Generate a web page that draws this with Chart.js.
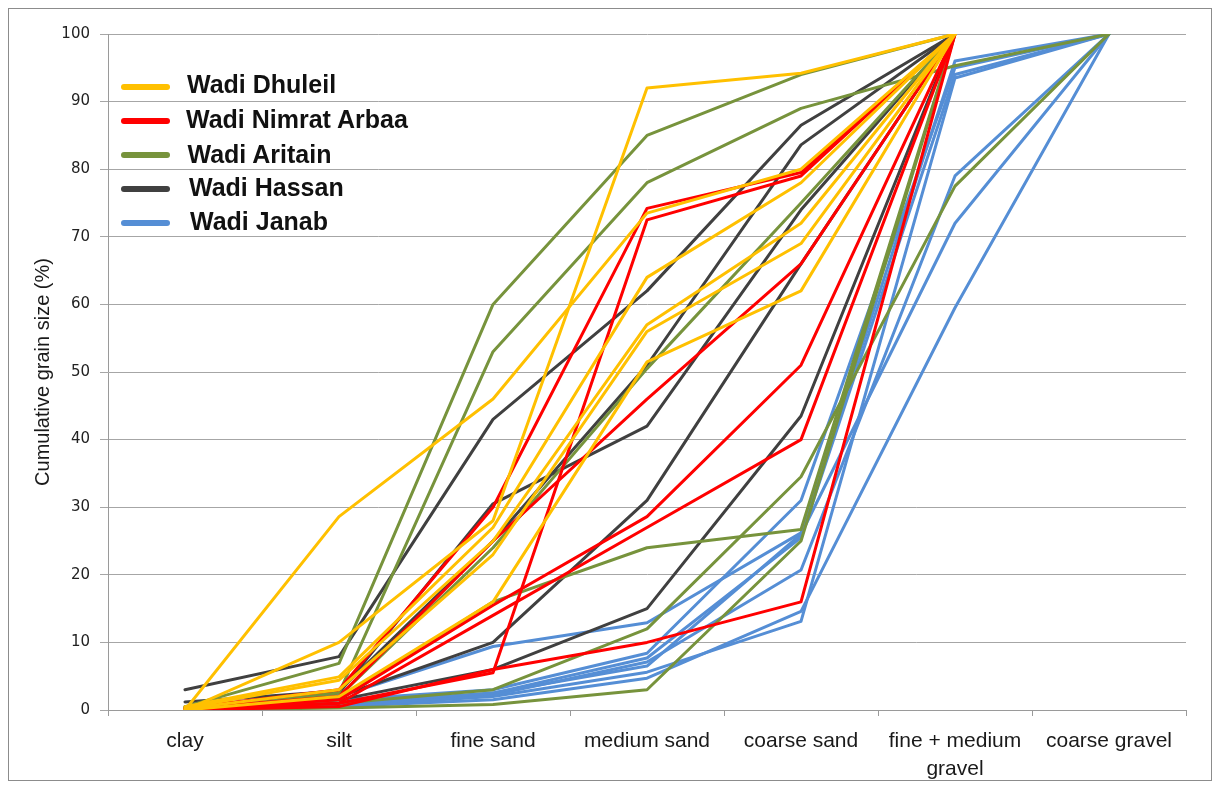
<!DOCTYPE html>
<html><head><meta charset="utf-8">
<script src="https://cdn.jsdelivr.net/npm/chart.js@4.4.0/dist/chart.umd.min.js"></script>
<style>
html,body{margin:0;padding:0;background:#fff;}
#wrap{position:relative;width:1213px;height:786px;overflow:hidden;}
canvas{display:block;}
.item{position:absolute;white-space:nowrap;font-family:"Liberation Sans",Arial,sans-serif;font-weight:bold;font-size:25px;line-height:30px;color:#111;}
.swatch{position:absolute;height:6px;width:49px;border-radius:3px;}
</style></head>
<body><div id="wrap"><canvas id="c" width="1213" height="786"></canvas><div id="legend"></div></div>
<script>
// ---- data ----
const categories = ['clay', 'silt', 'fine sand', 'medium sand', 'coarse sand', ['fine + medium', 'gravel'], 'coarse gravel'];
const yTickValues = [0, 10, 20, 30, 40, 50, 60, 70, 80, 90, 100];
const groupNames = ['Wadi Dhuleil', 'Wadi Nimrat Arbaa', 'Wadi Aritain', 'Wadi Hassan', 'Wadi Janab'];
const groupColors = ['#FFC000', '#FF0000', '#77933C', '#404040', '#558ED5'];

const dhuleil1 = [0, 28.6, 46, 73.5, 80, 100, null];
const dhuleil2 = [0, 10, 28, 92, 94.2, 100, null];
const dhuleil3 = [0.5, 4.9, 27, 64, 78, 100, null];
const dhuleil4 = [0.3, 4.4, 25, 57, 72, 100, null];
const dhuleil5 = [0.2, 3, 23, 56, 69, 100, null];
const dhuleil6 = [0, 2, 16, 51.5, 62, 100, null];

const nimrat1 = [0.3, 3, 30, 74.2, 79.5, 100, null];
const nimrat2 = [0, 1, 5.5, 72.5, 79, 100, null];
const nimrat3 = [0.2, 2, 25, 46, 66, 100, null];
const nimrat4 = [0, 1.5, 15.5, 28.6, 51, 100, null];
const nimrat5 = [0, 1, 14, 27, 40, 100, null];
const nimrat6 = [0, 0.5, 6, 10, 16, 100, null];

const aritain1 = [0.5, 6.9, 60, 85, 94, 100, null];
const aritain2 = [0.3, 2.5, 53, 78, 89, 95.3, 100];
const aritain3 = [0.3, 2, 24, 50.5, 75, 100, null];
const aritain4 = [0.2, 1.5, 16, 24, 26.7, 100, null];
const aritain5 = [0, 1, 3, 12, 34.5, 77.5, 100];
const aritain6 = [0, 0.3, 0.8, 3, 25, 100, null];

const hassan1 = [3, 7.9, 43, 62, 86.5, 100, null];
const hassan2 = [1.2, 2.8, 25, 51, 83.6, 100, null];
const hassan3 = [0.5, 2.5, 30.5, 42, 74, 100, null];
const hassan4 = [0.3, 2, 10, 31, 66, 100, null];
const hassan5 = [0.2, 1.5, 6, 15, 43.5, 100, null];

const janab1 = [0.3, 2, 9.4, 12.9, 26.2, 96, 100];
const janab2 = [0.2, 1.5, 3, 8.4, 31, 95, 100];
const janab3 = [0.2, 1, 2.5, 7.7, 25.5, 94, 100];
const janab4 = [0, 0.8, 2.2, 7.1, 20.7, 79, 100];
const janab5 = [0, 0.6, 2, 5.6, 13.1, 93.5, 100];
const janab6 = [0, 0.5, 1.5, 4.7, 14.6, 59.5, 100];
const janab7 = [0, 0.5, 2.5, 6.5, 26, 72, 100];

const groups = [
  [dhuleil1, dhuleil2, dhuleil3, dhuleil4, dhuleil5, dhuleil6],
  [nimrat1, nimrat2, nimrat3, nimrat4, nimrat5, nimrat6],
  [aritain1, aritain2, aritain3, aritain4, aritain5, aritain6],
  [hassan1, hassan2, hassan3, hassan4, hassan5],
  [janab1, janab2, janab3, janab4, janab5, janab6, janab7]
];

// ---- datasets ----
const datasets = [];
groups.forEach((g, gi) => {
  g.forEach((arr, k) => {
    datasets.push({
      label: groupNames[gi] + ' ' + (k + 1),
      data: arr,
      borderColor: groupColors[gi],
      backgroundColor: groupColors[gi],
      borderWidth: 3,
      pointRadius: 0,
      tension: 0,
      fill: false,
      spanGaps: false,
      borderJoinStyle: 'round',
      borderCapStyle: 'round'
    });
  });
});

// ---- legend (HTML overlay) ----
const legendRows = [
  {text: 84, line: 86.7, x: 187},
  {text: 119, line: 120.7, x: 186},
  {text: 154, line: 155, x: 187.5},
  {text: 187, line: 189.3, x: 189},
  {text: 220.5, line: 223.3, x: 190}
];
const leg = document.getElementById('legend');
groupNames.forEach((name, i) => {
  const r = legendRows[i];
  const sw = document.createElement('div');
  sw.className = 'swatch';
  sw.style.background = groupColors[i];
  sw.style.left = '121px';
  sw.style.top = (r.line - 3) + 'px';
  leg.appendChild(sw);
  const t = document.createElement('div');
  t.className = 'item';
  t.textContent = name;
  t.style.left = r.x + 'px';
  t.style.top = (r.text - 15) + 'px';
  leg.appendChild(t);
});

const frame = {
  id: 'frame',
  beforeDraw(chart) {
    const ctx = chart.ctx;
    ctx.save();
    ctx.fillStyle = '#fff';
    ctx.fillRect(0, 0, chart.width, chart.height);
    ctx.strokeStyle = '#8c8c8c';
    ctx.lineWidth = 1;
    ctx.strokeRect(8.5, 8.5, 1203, 772);
    ctx.restore();
  }
};

new Chart(document.getElementById('c'), {
  type: 'line',
  data: {labels: categories, datasets: datasets},
  plugins: [frame],
  options: {
    responsive: false,
    devicePixelRatio: 1,
    animation: false,
    layout: {padding: {left: 0, top: 34, right: 27, bottom: 0}},
    plugins: {legend: {display: false}, tooltip: {enabled: false}},
    scales: {
      x: {
        type: 'category',
        offset: true,
        grid: {offset: true, drawOnChartArea: false, drawTicks: true, tickLength: 6, color: '#9a9a9a', lineWidth: 1},
        border: {display: true, color: '#9a9a9a', width: 1},
        ticks: {
          autoSkip: false, maxRotation: 0, minRotation: 0, padding: 11,
          color: '#1a1a1a',
          font: {family: '"Liberation Sans Narrow", "Liberation Sans", sans-serif', size: 21, lineHeight: 1.33}
        },
        afterFit(s) { s.height = 76; }
      },
      y: {
        min: 0, max: 100,
        afterBuildTicks(s) { s.ticks = yTickValues.map(v => ({value: v})); },
        grid: {color: '#a6a6a6', lineWidth: 1, drawTicks: true, tickLength: 8},
        border: {display: true, color: '#9a9a9a', width: 1},
        ticks: {
          padding: 10, color: '#222',
          font: {family: '"DejaVu Sans", Verdana, sans-serif', size: 15}
        },
        title: {
          display: true, text: 'Cumulative grain size (%)', color: '#1a1a1a',
          font: {family: '"Liberation Sans Narrow", "Liberation Sans", sans-serif', size: 20},
          padding: {top: 31, bottom: 0}
        },
        afterFit(s) { s.width = 108; }
      }
    }
  }
});
</script>
</body></html>
